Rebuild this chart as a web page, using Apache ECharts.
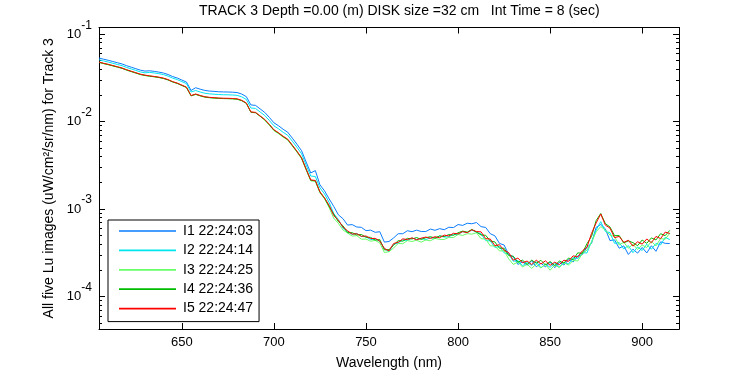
<!DOCTYPE html>
<html>
<head>
<meta charset="utf-8">
<script src="https://cdn.jsdelivr.net/npm/echarts/dist/echarts.min.js"></script>
<style>
html, body { margin: 0; padding: 0; background: #fff; }
#main { width: 750px; height: 375px; }
</style>
</head>
<body>
<div id="main"></div>
<script>
// wavelength (nm)
const wavelength = [
  605, 607.5, 610, 612.5, 615, 617.5, 620, 622.5, 625, 627.5,
  630, 632.5, 635, 637.5, 640, 642.5, 645, 647.5, 650, 652.5,
  655, 657.5, 660, 662.5, 665, 667.5, 670, 672.5, 675, 677.5,
  680, 682.5, 685, 687.5, 690, 692.5, 695, 697.5, 700, 702.5,
  705, 707.5, 710, 712.5, 715, 717.5, 720, 722.5, 725, 727.5,
  730, 732.5, 735, 737.5, 740, 742.5, 745, 747.5, 750, 752.5,
  755, 757.5, 760, 762.5, 765, 767.5, 770, 772.5, 775, 777.5,
  780, 782.5, 785, 787.5, 790, 792.5, 795, 797.5, 800, 802.5,
  805, 807.5, 810, 812.5, 815, 817.5, 820, 822.5, 825, 827.5,
  830, 832.5, 835, 837.5, 840, 842.5, 845, 847.5, 850, 852.5,
  855, 857.5, 860, 862.5, 865, 867.5, 870, 872.5, 875, 877.5,
  880, 882.5, 885, 887.5, 890, 892.5, 895, 897.5, 900, 902.5,
  905, 907.5, 910, 912.5, 915
]

// log10 of Lu (uW/cm^2/sr/nm), one array per image
const i1Log = [
  -1.272, -1.286, -1.298, -1.312, -1.326, -1.340, -1.360, -1.377, -1.394, -1.411,
  -1.422, -1.418, -1.425, -1.433, -1.444, -1.461, -1.484, -1.501, -1.524, -1.547,
  -1.643, -1.612, -1.629, -1.643, -1.650, -1.654, -1.658, -1.660, -1.661, -1.663,
  -1.667, -1.684, -1.714, -1.809, -1.814, -1.854, -1.894, -1.951, -2.013, -2.047,
  -2.087, -2.121, -2.189, -2.258, -2.332, -2.462, -2.587, -2.560, -2.723, -2.792,
  -2.884, -2.970, -3.066, -3.110, -3.183, -3.178, -3.205, -3.209, -3.247, -3.241,
  -3.266, -3.259, -3.378, -3.371, -3.330, -3.282, -3.282, -3.248, -3.259, -3.241,
  -3.257, -3.257, -3.229, -3.243, -3.224, -3.236, -3.208, -3.212, -3.177, -3.187,
  -3.162, -3.168, -3.154, -3.201, -3.210, -3.282, -3.306, -3.393, -3.411, -3.520,
  -3.545, -3.633, -3.604, -3.642, -3.592, -3.660, -3.619, -3.662, -3.607, -3.671,
  -3.610, -3.640, -3.578, -3.605, -3.536, -3.521, -3.437, -3.393, -3.209, -3.176,
  -3.226, -3.360, -3.352, -3.448, -3.421, -3.519, -3.459, -3.504, -3.439, -3.502,
  -3.420, -3.483, -3.375, -3.392, -3.394
]
const i2Log = [
  -1.292, -1.306, -1.318, -1.332, -1.346, -1.360, -1.380, -1.397, -1.414, -1.431,
  -1.442, -1.436, -1.443, -1.451, -1.462, -1.479, -1.502, -1.519, -1.542, -1.565,
  -1.661, -1.644, -1.661, -1.675, -1.682, -1.686, -1.690, -1.692, -1.693, -1.695,
  -1.699, -1.716, -1.746, -1.844, -1.849, -1.889, -1.929, -1.986, -2.048, -2.082,
  -2.122, -2.156, -2.224, -2.293, -2.367, -2.497, -2.622, -2.628, -2.758, -2.827,
  -2.925, -3.051, -3.119, -3.218, -3.259, -3.290, -3.279, -3.313, -3.317, -3.350,
  -3.342, -3.368, -3.452, -3.488, -3.405, -3.387, -3.352, -3.360, -3.331, -3.348,
  -3.334, -3.350, -3.327, -3.335, -3.308, -3.320, -3.318, -3.289, -3.292, -3.259,
  -3.268, -3.240, -3.266, -3.283, -3.360, -3.365, -3.439, -3.428, -3.501, -3.515,
  -3.597, -3.588, -3.649, -3.610, -3.645, -3.602, -3.671, -3.630, -3.667, -3.616,
  -3.660, -3.615, -3.628, -3.555, -3.566, -3.499, -3.502, -3.373, -3.239, -3.144,
  -3.256, -3.270, -3.392, -3.383, -3.456, -3.419, -3.499, -3.434, -3.474, -3.402,
  -3.460, -3.393, -3.410, -3.324, -3.349
]
const i3Log = [
  -1.321, -1.335, -1.347, -1.361, -1.375, -1.389, -1.409, -1.426, -1.443, -1.460,
  -1.471, -1.479, -1.486, -1.494, -1.505, -1.522, -1.545, -1.562, -1.585, -1.608,
  -1.704, -1.687, -1.704, -1.718, -1.725, -1.729, -1.733, -1.735, -1.736, -1.738,
  -1.742, -1.759, -1.789, -1.892, -1.897, -1.937, -1.984, -2.041, -2.103, -2.137,
  -2.177, -2.211, -2.279, -2.348, -2.422, -2.552, -2.677, -2.683, -2.813, -2.882,
  -2.985, -3.105, -3.163, -3.239, -3.274, -3.309, -3.304, -3.345, -3.343, -3.368,
  -3.359, -3.387, -3.497, -3.488, -3.444, -3.394, -3.396, -3.361, -3.371, -3.357,
  -3.378, -3.354, -3.363, -3.335, -3.347, -3.348, -3.323, -3.326, -3.291, -3.302,
  -3.281, -3.287, -3.271, -3.339, -3.343, -3.421, -3.422, -3.479, -3.476, -3.570,
  -3.633, -3.606, -3.662, -3.631, -3.678, -3.630, -3.674, -3.632, -3.700, -3.639,
  -3.670, -3.613, -3.641, -3.588, -3.594, -3.509, -3.470, -3.380, -3.260, -3.200,
  -3.240, -3.298, -3.315, -3.411, -3.379, -3.447, -3.402, -3.462, -3.412, -3.440,
  -3.368, -3.421, -3.338, -3.345, -3.277
]
const i4Log = [
  -1.322, -1.336, -1.348, -1.362, -1.376, -1.390, -1.410, -1.427, -1.444, -1.461,
  -1.472, -1.480, -1.487, -1.495, -1.506, -1.523, -1.546, -1.563, -1.586, -1.609,
  -1.705, -1.688, -1.705, -1.719, -1.726, -1.730, -1.734, -1.736, -1.737, -1.739,
  -1.743, -1.760, -1.790, -1.893, -1.898, -1.938, -1.978, -2.035, -2.097, -2.131,
  -2.171, -2.205, -2.273, -2.342, -2.416, -2.546, -2.671, -2.677, -2.807, -2.876,
  -2.971, -3.059, -3.143, -3.191, -3.270, -3.270, -3.296, -3.291, -3.323, -3.324,
  -3.355, -3.349, -3.467, -3.464, -3.412, -3.361, -3.367, -3.335, -3.342, -3.326,
  -3.348, -3.328, -3.316, -3.332, -3.307, -3.315, -3.291, -3.300, -3.271, -3.252,
  -3.264, -3.233, -3.263, -3.296, -3.300, -3.365, -3.376, -3.448, -3.448, -3.532,
  -3.540, -3.608, -3.584, -3.633, -3.585, -3.620, -3.586, -3.640, -3.600, -3.646,
  -3.595, -3.617, -3.560, -3.580, -3.501, -3.506, -3.397, -3.313, -3.132, -3.051,
  -3.166, -3.205, -3.304, -3.303, -3.386, -3.364, -3.384, -3.419, -3.354, -3.392,
  -3.330, -3.353, -3.282, -3.304, -3.244
]
const i5Log = [
  -1.318, -1.332, -1.344, -1.358, -1.372, -1.386, -1.406, -1.423, -1.440, -1.457,
  -1.468, -1.476, -1.483, -1.491, -1.502, -1.519, -1.542, -1.559, -1.582, -1.605,
  -1.701, -1.684, -1.701, -1.715, -1.722, -1.726, -1.730, -1.732, -1.733, -1.735,
  -1.739, -1.756, -1.786, -1.889, -1.894, -1.934, -1.974, -2.031, -2.093, -2.127,
  -2.167, -2.201, -2.269, -2.338, -2.412, -2.542, -2.667, -2.673, -2.803, -2.872,
  -2.958, -3.075, -3.127, -3.207, -3.248, -3.287, -3.282, -3.312, -3.308, -3.337,
  -3.335, -3.366, -3.451, -3.478, -3.394, -3.380, -3.341, -3.349, -3.329, -3.352,
  -3.333, -3.320, -3.336, -3.316, -3.328, -3.298, -3.308, -3.277, -3.284, -3.258,
  -3.270, -3.237, -3.257, -3.261, -3.338, -3.343, -3.419, -3.408, -3.473, -3.498,
  -3.585, -3.560, -3.614, -3.595, -3.635, -3.585, -3.628, -3.592, -3.644, -3.608,
  -3.636, -3.585, -3.598, -3.535, -3.549, -3.479, -3.437, -3.278, -3.159, -3.056,
  -3.184, -3.217, -3.327, -3.313, -3.381, -3.357, -3.424, -3.374, -3.401, -3.342,
  -3.385, -3.313, -3.338, -3.264, -3.279
]

const seriesNames = ['I1 22:24:03', 'I2 22:24:14', 'I3 22:24:25', 'I4 22:24:36', 'I5 22:24:47']
const seriesColors = ['#0a7dff', '#00e6f0', '#66ff66', '#00bb00', '#ff0000']
const xTicks = [650, 700, 750, 800, 850, 900]
const yDecades = [-4, -3, -2, -1]

const X_MIN = 605
const X_MAX = 920
const Y_MIN = -4.372
const Y_MAX = -0.923
const FONT = 'Liberation Sans, Arial, Helvetica, sans-serif'

// log minor ticks (2..9 x 10^n)
const yMinor = []
for (let d = -5; d <= -1; d++) {
  for (let k = 2; k <= 9; k++) {
    const v = d + Math.log10(k)
    if (v > Y_MIN && v < Y_MAX) yMinor.push(v)
  }
}

const allLogs = [i1Log, i2Log, i3Log, i4Log, i5Log]
const series = allLogs.map((arr, idx) => {
  return {
    name: seriesNames[idx],
    type: 'line',
    xAxisIndex: 0,
    yAxisIndex: 0,
    symbol: 'none',
    data: wavelength.map((w, i) => [w, arr[i]]),
    lineStyle: { width: 1, color: seriesColors[idx] },
    itemStyle: { color: seriesColors[idx] }
  }
})

const blackLine = { show: true, lineStyle: { color: '#000', width: 1 } }

function yAxisOf(position, tickValues, tickLen, withLabels) {
  return {
    type: 'value',
    position: position,
    min: Y_MIN,
    max: Y_MAX,
    axisLine: blackLine,
    splitLine: { show: false },
    axisTick: {
      show: true,
      inside: true,
      length: tickLen,
      customValues: tickValues,
      lineStyle: { color: '#000' }
    },
    axisLabel: withLabels ? {
      show: true,
      customValues: yDecades,
      margin: 7,
      formatter: v => '{b|10}{e|' + Math.round(v) + '}',
      rich: {
        b: { fontSize: 13, color: '#000', fontFamily: FONT },
        e: { fontSize: 12, color: '#000', fontFamily: FONT, padding: [0, 0, 18, 0] }
      }
    } : { show: false }
  }
}

const chartInstance = echarts.init(document.getElementById('main'))
const option = {
  animation: false,
  backgroundColor: '#fff',
  title: {
    text: 'TRACK 3 Depth =0.00 (m) DISK size =32 cm   Int Time = 8 (sec)',
    left: 199,
    top: 4,
    padding: 0,
    textStyle: { fontSize: 14, fontWeight: 'normal', color: '#000', fontFamily: FONT }
  },
  grid: { left: 99, right: 71, top: 27.5, bottom: 44 },
  legend: {
    data: seriesNames,
    orient: 'vertical',
    left: 108,
    top: 220,
    padding: [4, 6, 6, 11],
    icon: 'path://M0,0L100,0L100,3L0,3Z', // plain line, no marker
    symbolKeepAspect: true,
    itemWidth: 57,
    itemHeight: 14,
    itemGap: 5.4,
    borderColor: '#000',
    borderWidth: 1,
    backgroundColor: '#fff',
    textStyle: { fontSize: 14, color: '#000', fontFamily: FONT, padding: [0, 0, 0, 2] }
  },
  xAxis: [
    {
      type: 'value',
      position: 'bottom',
      min: X_MIN,
      max: X_MAX,
      name: 'Wavelength (nm)',
      nameLocation: 'middle',
      nameGap: 27,
      nameTextStyle: { fontSize: 14, color: '#000', fontFamily: FONT },
      axisLine: blackLine,
      splitLine: { show: false },
      axisTick: { inside: true, length: 6, customValues: xTicks, lineStyle: { color: '#000' } },
      axisLabel: { customValues: xTicks, margin: 7, fontSize: 13, color: '#000', fontFamily: FONT }
    },
    {
      type: 'value',
      position: 'top',
      min: X_MIN,
      max: X_MAX,
      axisLine: blackLine,
      splitLine: { show: false },
      axisTick: { inside: true, length: 6, customValues: xTicks, lineStyle: { color: '#000' } },
      axisLabel: { show: false }
    }
  ],
  yAxis: [
    Object.assign(yAxisOf('left', yDecades, 6, true), {
      name: 'All five Lu images (uW/cm²/sr/nm) for Track 3',
      nameLocation: 'middle',
      nameRotate: 90,
      nameGap: 42,
      nameTextStyle: { fontSize: 14, color: '#000', fontFamily: FONT }
    }),
    yAxisOf('left', yMinor, 3, false),
    yAxisOf('right', yDecades, 6, false),
    yAxisOf('right', yMinor, 3, false)
  ],
  series: series
}
chartInstance.setOption(option)
</script>
</body>
</html>
